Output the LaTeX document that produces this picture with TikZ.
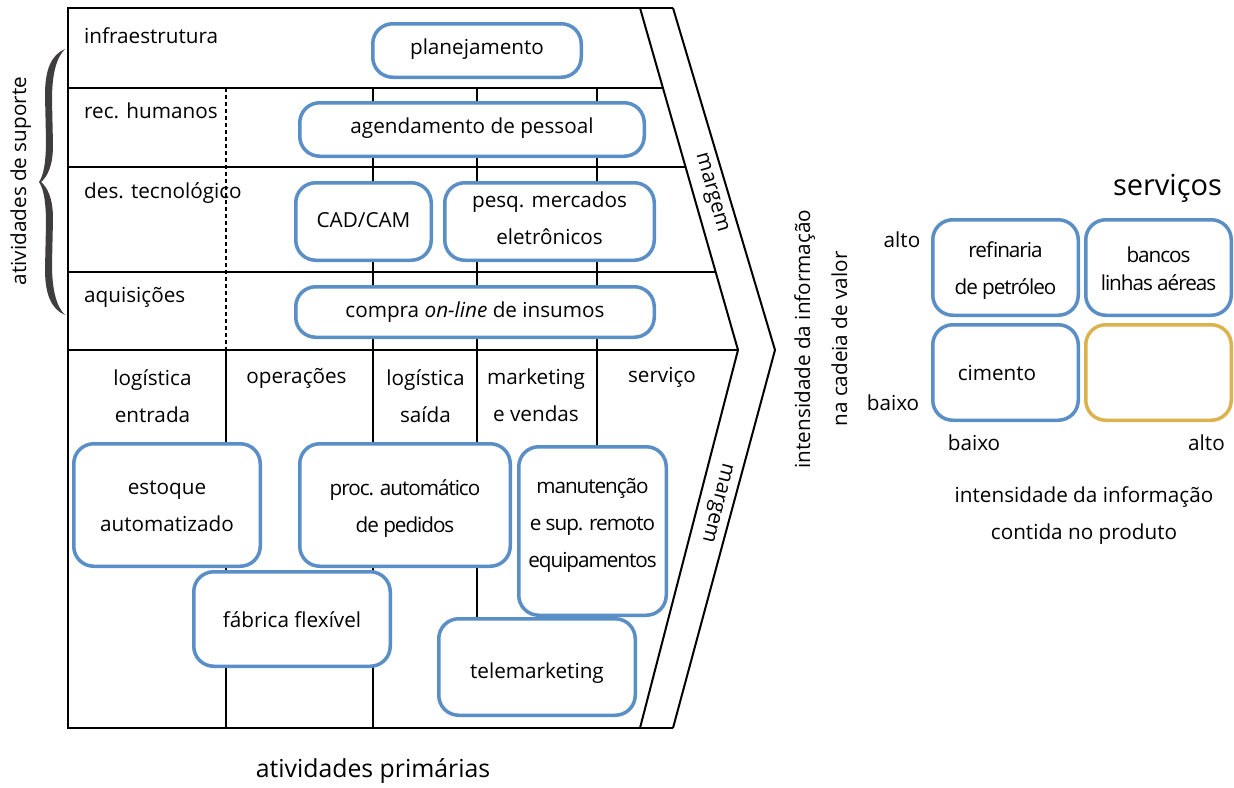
\documentclass[tikz,border=0pt]{standalone}
\usepackage{fontspec}
\setmainfont{Open Sans}
\newfontfamily\narrowfont[LetterSpace=-5]{Open Sans}
\newcommand{\txtsize}{\fontsize{20.7}{37}\selectfont}
\definecolor{boxblue}{HTML}{5A8EC6}
\definecolor{boxgold}{HTML}{DCB24E}
\definecolor{bracegray}{HTML}{403D3D}

\tikzset{
  frameline/.style={line width=2.7pt, line join=miter},
  diagline/.style={line width=2pt, line join=miter},
  dashline/.style={line width=1.3pt, dash pattern=on 4pt off 3pt},
  bluebox/.style={draw=boxblue, line width=3.5pt, fill=white, rounded corners=20pt,
    inner sep=0pt, align=center, font=\txtsize},
  goldbox/.style={bluebox, draw=boxgold},
  lbl/.style={inner sep=0pt, font=\txtsize, align=center},
  narrow/.style={font=\txtsize\narrowfont},
  tpos/.style 2 args={text height=#1pt, text depth=#2pt},
}

\begin{document}
\begin{tikzpicture}[x=1pt, y=-1pt]
\useasboundingbox (0,0) rectangle (1234,787);

% ---------- value chain frame ----------
\coordinate (tl) at (68,8);
\coordinate (bl) at (68,728);
\coordinate (it) at (640,8);
\coordinate (ip) at (738,350);
\coordinate (ib) at (640,728);
\coordinate (ot) at (673,8);
\coordinate (op) at (775,350);
\coordinate (ob) at (673,728);
\coordinate (r1l) at (68,88);   \coordinate (r1r) at (662.9,88);
\coordinate (r2l) at (68,167);  \coordinate (r2r) at (685.6,167);
\coordinate (r3l) at (68,272);  \coordinate (r3r) at (715.6,272);
\coordinate (r4l) at (68,350);

% column dividers
\coordinate (ca) at (226,88);   \coordinate (cam) at (226,350);  \coordinate (cab) at (226,728);
\coordinate (cb) at (373,88);   \coordinate (cbb) at (373,728);
\coordinate (cc) at (477,88);   \coordinate (ccb) at (477,617);
\coordinate (cd) at (597,88);   \coordinate (cdb) at (597,446);

\draw[dashline] (ca) -- (cam);
\draw[frameline] (cb) -- (cbb);
\draw[frameline] (cc) -- (ccb);
\draw[frameline] (cd) -- (cdb);
\draw[frameline] (cam) -- (cab);

\draw[frameline] (r1l) -- (r1r);
\draw[frameline] (r2l) -- (r2r);
\draw[frameline] (r3l) -- (r3r);
\draw[frameline] (r4l) -- (ip);
\draw[frameline] (ot) -- (tl) -- (bl) -- (ob);
\draw[diagline] (it) -- (ip) -- (ib);
\draw[diagline] (ot) -- (op) -- (ob);

% ---------- row and column labels ----------
\node[lbl, anchor=base west] (linfra) at (84,43) {infraestrutura};
\node[lbl, anchor=base west] (lrh) at (84,118) {rec. humanos};
\node[lbl, anchor=base west] (ltec) at (84,198) {des. tecnológico};
\node[lbl, anchor=base west] (laq) at (84,302) {aquisições};

\node[lbl, anchor=base] (plog1) at (152.5,422) {logística\\entrada};
\node[lbl, anchor=base] (pops) at (296.5,383) {operações};
\node[lbl, anchor=base] (plog2) at (425.5,422) {logística\\saída};
\node[lbl, anchor=base] (pmkt) at (536,421) {marketing\\e vendas};
\node[lbl, anchor=base] (pserv) at (662,382) {serviço};

\node[lbl, rotate=-74] (margA) at (710.5,193) {margem};
\node[lbl, rotate=-104.5] (margB) at (716,503) {margem};

\node[lbl, anchor=base, font=\fontsize{24.8}{30}\selectfont] (prim) at (373,777) {atividades primárias};
\node[lbl, anchor=base, rotate=90] (sup) at (26,181) {atividades de suporte};

% brace grouping the support rows
\fill[bracegray] (65,49) .. controls (51,55) and (45,70) .. (45,95) -- (46,140)
  .. controls (46,160) and (44,175) .. (39,182)
  .. controls (44,189) and (46,204) .. (46,224) -- (45,269)
  .. controls (45,294) and (51,309) .. (65,315)
  .. controls (56,306) and (52,289) .. (52,264) -- (53,219)
  .. controls (53,199) and (48,188) .. (41,182)
  .. controls (48,176) and (53,165) .. (53,145) -- (52,100)
  .. controls (52,75) and (56,58) .. (65,49) -- cycle;

% ---------- activity boxes ----------
\node[bluebox, tpos={12}{5}, minimum width=208.5pt, minimum height=53.5pt] (plan) at (477,50.5) {planejamento};
\node[bluebox, tpos={12}{5}, minimum width=344.5pt, minimum height=53.5pt] (agend) at (472,129.5) {agendamento de pessoal};
\node[bluebox, tpos={13}{2}, minimum width=135.5pt, minimum height=77.5pt] (cad) at (363.5,221.5) {CAD/CAM};
\node[bluebox, tpos={47}{2}, minimum width=209.5pt, minimum height=77.5pt] (pesq) at (549.5,221.5) {pesq. mercados\\eletrônicos};
\node[bluebox, tpos={15}{5}, minimum width=358.5pt, minimum height=50.5pt] (compra) at (475,312) {compra \textit{on-line} de insumos};
\node[bluebox, tpos={54}{2}, minimum width=186.5pt, minimum height=122.5pt] (estoque) at (167,505) {estoque\\automatizado};
\node[bluebox, narrow, tpos={56}{2}, minimum width=210.5pt, minimum height=122.5pt] (proc) at (405,505) {proc. automático\\de pedidos};
\node[bluebox, tpos={17}{1}, minimum width=196.5pt, minimum height=94.5pt] (fabrica) at (292,619) {fábrica flexível};
\node[bluebox, narrow, tpos={74}{2}, minimum width=147.5pt, minimum height=168.5pt] (manut) at (592.5,531) {manutenção\\e sup. remoto\\equipamentos};
\node[bluebox, tpos={23}{1}, minimum width=196.5pt, minimum height=96.5pt] (telem) at (537,667) {telemarketing};

% ---------- information intensity matrix ----------
\node[lbl, anchor=base, rotate=90] (vint1) at (810,339) {intensidade da informação};
\node[lbl, anchor=base, rotate=90] (vint2) at (847,339) {na cadeia de valor};
\node[lbl, anchor=base, font=\fontsize{29}{30}\selectfont] (servt) at (1167.5,195) {serviços};

\node[bluebox, narrow, tpos={55}{2}, minimum width=145.5pt, minimum height=95.5pt] (refin) at (1005.5,267.5) {refinaria\\de petróleo};
\node[bluebox, tpos={47}{2}, minimum width=145.5pt, minimum height=95.5pt, font=\fontsize{20.7}{28}\selectfont\narrowfont] (bancos) at (1158.5,267.5) {bancos\\linhas aéreas};
\node[bluebox, tpos={16}{1}, minimum width=145.5pt, minimum height=95.5pt] (cim) at (1005.5,372.5) {cimento\hspace*{17pt}};
\node[goldbox, minimum width=145.5pt, minimum height=95.5pt] (empty) at (1158.5,372.5) {};

\node[lbl, anchor=base] (yhi) at (902,247) {alto};
\node[lbl, anchor=base] (ylo) at (893,410) {baixo};
\node[lbl, anchor=base] (xlo) at (974,450) {baixo};
\node[lbl, anchor=base] (xhi) at (1206.5,450) {alto};
\node[lbl, anchor=base] (xax) at (1084,539) {intensidade da informação\\contida no produto};
\end{tikzpicture}
\end{document}
